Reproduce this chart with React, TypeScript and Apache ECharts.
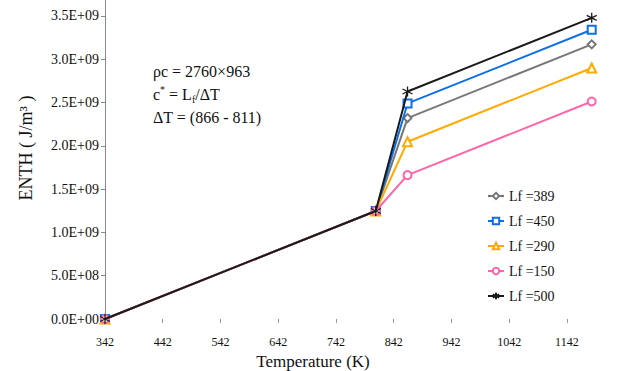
import React, { useEffect, useRef } from "react";
import * as echarts from "echarts";

// ---- data ----
const temperatures = [342, 811, 866, 1185];
const seriesNames = ["Lf =389", "Lf =450", "Lf =290", "Lf =150", "Lf =500"];
const lf389 = [0, 1.247e9, 2.32e9, 3.171e9];
const lf450 = [0, 1.247e9, 2.489e9, 3.339e9];
const lf290 = [0, 1.247e9, 2.047e9, 2.898e9];
const lf150 = [0, 1.247e9, 1.661e9, 2.511e9];
const lf500 = [0, 1.247e9, 2.627e9, 3.477e9];
const xTickLabels = ["342", "442", "542", "642", "742", "842", "942", "1042", "1142"];
const yTickLabels = ["0.0E+00", "5.0E+08", "1.0E+09", "1.5E+09", "2.0E+09", "2.5E+09", "3.0E+09", "3.5E+09"];
const xStart = 342;

const FONT = "Liberation Serif, serif";
const STAR = "path://M0,-6 L0,6 M-5.2,-3 L5.2,3 M-5.2,3 L5.2,-3";

const labelAt = (labels: string[], v: number, step: number) => {
  const k = v / step;
  const r = Math.round(k);
  return Math.abs(k - r) < 1e-6 ? labels[r] ?? "" : "";
};

export default function App() {
  const ref = useRef<HTMLDivElement>(null);
  useEffect(() => {
    if (!ref.current) return;
    const chart = echarts.init(ref.current, null, { renderer: "svg" });
    const values = [lf389, lf450, lf290, lf150, lf500];
    const colors = ["#777777", "#0b6fe8", "#ffaa00", "#ff66aa", "#1a1a1a"];
    const symbols = ["emptyDiamond", "emptyRect", "emptyTriangle", "emptyCircle", STAR];
    const sizes = [8, 8, 9, 8, 10];
    const series = values.map((vals, i) => ({
      name: seriesNames[i],
      type: "line",
      data: vals.map((v, j) => [temperatures[j] - xStart, v]),
      symbol: symbols[i],
      symbolSize: sizes[i],
      lineStyle: { color: colors[i], width: 2 },
      itemStyle: {
        color: colors[i],
        borderColor: colors[i],
        borderWidth: 1.3,
      },
      z: 2 + i,
    }));
    chart.setOption({
      animation: false,
      backgroundColor: "#ffffff",
      textStyle: { fontFamily: FONT },
      grid: { left: 105, right: 0, top: 0, bottom: 52, containLabel: false },
      xAxis: {
        type: "value",
        min: 0,
        max: 892,
        interval: 100,
        axisLine: { show: false },
        axisTick: { show: true, length: 4, lineStyle: { color: "#999" } },
        splitLine: { show: false },
        axisLabel: {
          margin: 17,
          color: "#111",
          fontFamily: FONT,
          fontSize: 12,
          showMaxLabel: false,
          formatter: (v: number) => labelAt(xTickLabels, v, 100),
        },
      },
      yAxis: {
        type: "value",
        min: 0,
        max: 3.683e9,
        interval: 5e8,
        axisLine: { show: true, lineStyle: { color: "#888", width: 1 } },
        axisTick: { show: true, length: 4, lineStyle: { color: "#888" } },
        splitLine: { show: false },
        axisLabel: {
          margin: 6,
          color: "#111",
          fontFamily: FONT,
          fontSize: 14,
          showMaxLabel: false,
          formatter: (v: number) => labelAt(yTickLabels, v, 5e8),
        },
      },
      legend: {
        orient: "vertical",
        left: 482,
        top: 183,
        itemWidth: 16,
        itemHeight: 8,
        itemGap: 9,
        data: seriesNames,
        textStyle: { fontFamily: FONT, fontSize: 14, color: "#111", lineHeight: 16 },
      },
      graphic: [
        {
          type: "text",
          x: 26,
          y: 148,
          rotation: Math.PI / 2,
          style: {
            text: "ENTH ( J/m³ )",
            font: `18px ${FONT}`,
            fill: "#111",
            align: "center",
            verticalAlign: "middle",
          },
        },
        {
          type: "text",
          x: 313,
          y: 361,
          style: {
            text: "Temperature (K)",
            font: `17px ${FONT}`,
            fill: "#111",
            align: "center",
            verticalAlign: "middle",
          },
        },
        {
          type: "text",
          x: 153,
          y: 71,
          style: {
            text: "ρc = 2760×963",
            font: `16px ${FONT}`,
            fill: "#111",
            align: "left",
            verticalAlign: "middle",
          },
        },
        {
          type: "text",
          x: 153,
          y: 94,
          style: {
            text: "{m|c}{sup|*}{m| = L}{sub|f}{m|/ΔT}",
            align: "left",
            verticalAlign: "middle",
            rich: {
              m: { fontFamily: FONT, fontSize: 16, lineHeight: 20, fill: "#111", verticalAlign: "middle" },
              sup: { fontFamily: FONT, fontSize: 10, lineHeight: 10, fill: "#111", verticalAlign: "top" },
              sub: { fontFamily: FONT, fontSize: 10, lineHeight: 10, fill: "#111", verticalAlign: "bottom" },
            },
          },
        },
        {
          type: "text",
          x: 153,
          y: 117,
          style: {
            text: "ΔT = (866 - 811)",
            font: `16px ${FONT}`,
            fill: "#111",
            align: "left",
            verticalAlign: "middle",
          },
        },
      ],
      series,
    });
    return () => chart.dispose();
  }, []);
  return (
    <div
      ref={ref}
      style={{ position: "fixed", left: 0, top: 0, width: 620, height: 371, background: "#fff" }}
    />
  );
}
